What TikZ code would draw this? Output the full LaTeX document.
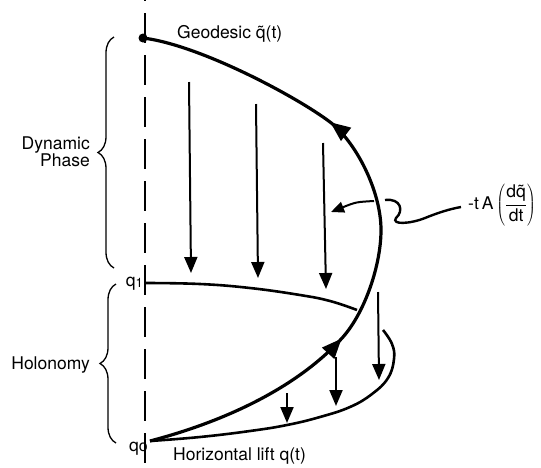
\documentclass[tikz,border=0pt]{standalone}
\usepackage{fontspec}
\setmainfont{TeX Gyre Heros}
\usetikzlibrary{arrows.meta,decorations.pathreplacing,decorations.markings}
\begin{document}
\begin{tikzpicture}[x=1pt,y=-1pt,
  lbl/.style={font=\fontsize{17.5}{17}\selectfont, inner sep=0pt},
  axisline/.style={line width=1.8pt, dash pattern=on 30pt off 12pt, dash phase=29pt},
  geod/.style={line width=3.2pt, line join=round},
  lift/.style={line width=2.6pt},
  vec/.style={line width=2pt, -{Triangle[length=16pt,width=13pt]}},
  bracestyle/.style={line width=1.3pt, decorate, decoration={brace, amplitude=16pt}},
  bigtip/.style={decoration={markings,
     mark=at position 0.33 with {\arrow{Triangle[length=20pt,width=16pt]}},
     mark=at position 0.69 with {\arrow{Triangle[length=20pt,width=16pt]}}},
     postaction={decorate}},
  ]
\useasboundingbox (0,0) rectangle (541,467);
% vertical dashed axis
\coordinate (axtop) at (145,0);
\coordinate (axbot) at (145,467);
\draw[axisline] (axtop) -- (axbot);

% key points
\coordinate (q0pt) at (150,441);
\coordinate (q1pt) at (146,283);
\node[circle, fill, inner sep=0pt, minimum size=9pt] (dot) at (143,38) {};

% geodesic / main loop
\coordinate (ga) at (343,337);
\coordinate (gb) at (381,230);
\coordinate (gc) at (330,122);
\draw[geod, bigtip] (q0pt) .. controls (230,420) and (300,385) .. (ga)
  .. controls (365,312) and (381,265) .. (gb)
  .. controls (381,190) and (355,141) .. (gc)
  .. controls (297,97) and (200,45) .. (dot.center);

% horizontal lift
\coordinate (liftA) at (357,310);
\coordinate (liftB) at (383,330);
\draw[lift] plot[smooth, tension=0.7] coordinates {
  (q1pt) (200,284) (250,288) (300,295) (330,301) (liftA)};
\draw[lift] plot[smooth, tension=0.7] coordinates {
  (liftB) (392,344) (394,359) (388,378) (372,394) (350,407) (320,417)
  (287,425) (250,431) (200,437) (q0pt)};

% vertical arrows (upper)
\coordinate (u1s) at (189,82);  \coordinate (u1e) at (191,273);
\coordinate (u2s) at (256,104); \coordinate (u2e) at (258,278);
\coordinate (u3s) at (323,143); \coordinate (u3e) at (326,289);
\draw[vec] (u1s) -- (u1e);
\draw[vec] (u2s) -- (u2e);
\draw[vec] (u3s) -- (u3e);
% vertical arrows (lower)
\coordinate (l1s) at (378,292); \coordinate (l1e) at (379,380);
\coordinate (l2s) at (336,357); \coordinate (l2e) at (336,406);
\coordinate (l3s) at (287,393); \coordinate (l3e) at (287,423);
\draw[vec] (l1s) -- (l1e);
\draw[vec] (l2s) -- (l2e);
\draw[vec] (l3s) -- (l3e);

% small left arrow
\coordinate (sa) at (374,201);
\coordinate (sb) at (331,212);
\draw[line width=2pt, -{Triangle[length=13pt,width=11pt]}] (sa) .. controls (356,202) .. (sb);

% squiggle to label
\coordinate (wa) at (385,200);
\node[lbl, anchor=west] (alab) at (468,205)
  {-t\,A\,$\displaystyle\left(\frac{\mbox{d\~q}}{\mbox{dt}}\right)$};
\draw[line width=2.4pt] (wa) .. controls (401,198) and (404,211) .. (396,218)
  .. controls (391,225) and (410,224) .. (425,218)
  .. controls (440,212) and (450,209) .. ([xshift=-7pt,yshift=-2pt]alab.west);

% texts
\node[lbl, anchor=base west] (geo) at (177,38) {Geodesic \~q(t)};
\node[lbl, anchor=base west] (hor) at (173,460) {Horizontal lift q(t)};
\node[lbl, anchor=base east] (q1) at (143,286) {q\raisebox{-1pt}{\fontsize{13}{13}\selectfont 1}};
\node[lbl, anchor=base east] (q0) at (148,451) {q{\fontsize{16}{16}\selectfont o}};

% braces
\draw[bracestyle] (114,268) -- (114,37);
\draw[bracestyle] (116,443) -- (116,284);
\node[lbl, anchor=east, align=right] (dyn) at (90,152) {Dynamic\\Phase};
\node[lbl, anchor=base east] (hol) at (90,369) {Holonomy};
\end{tikzpicture}
\end{document}
